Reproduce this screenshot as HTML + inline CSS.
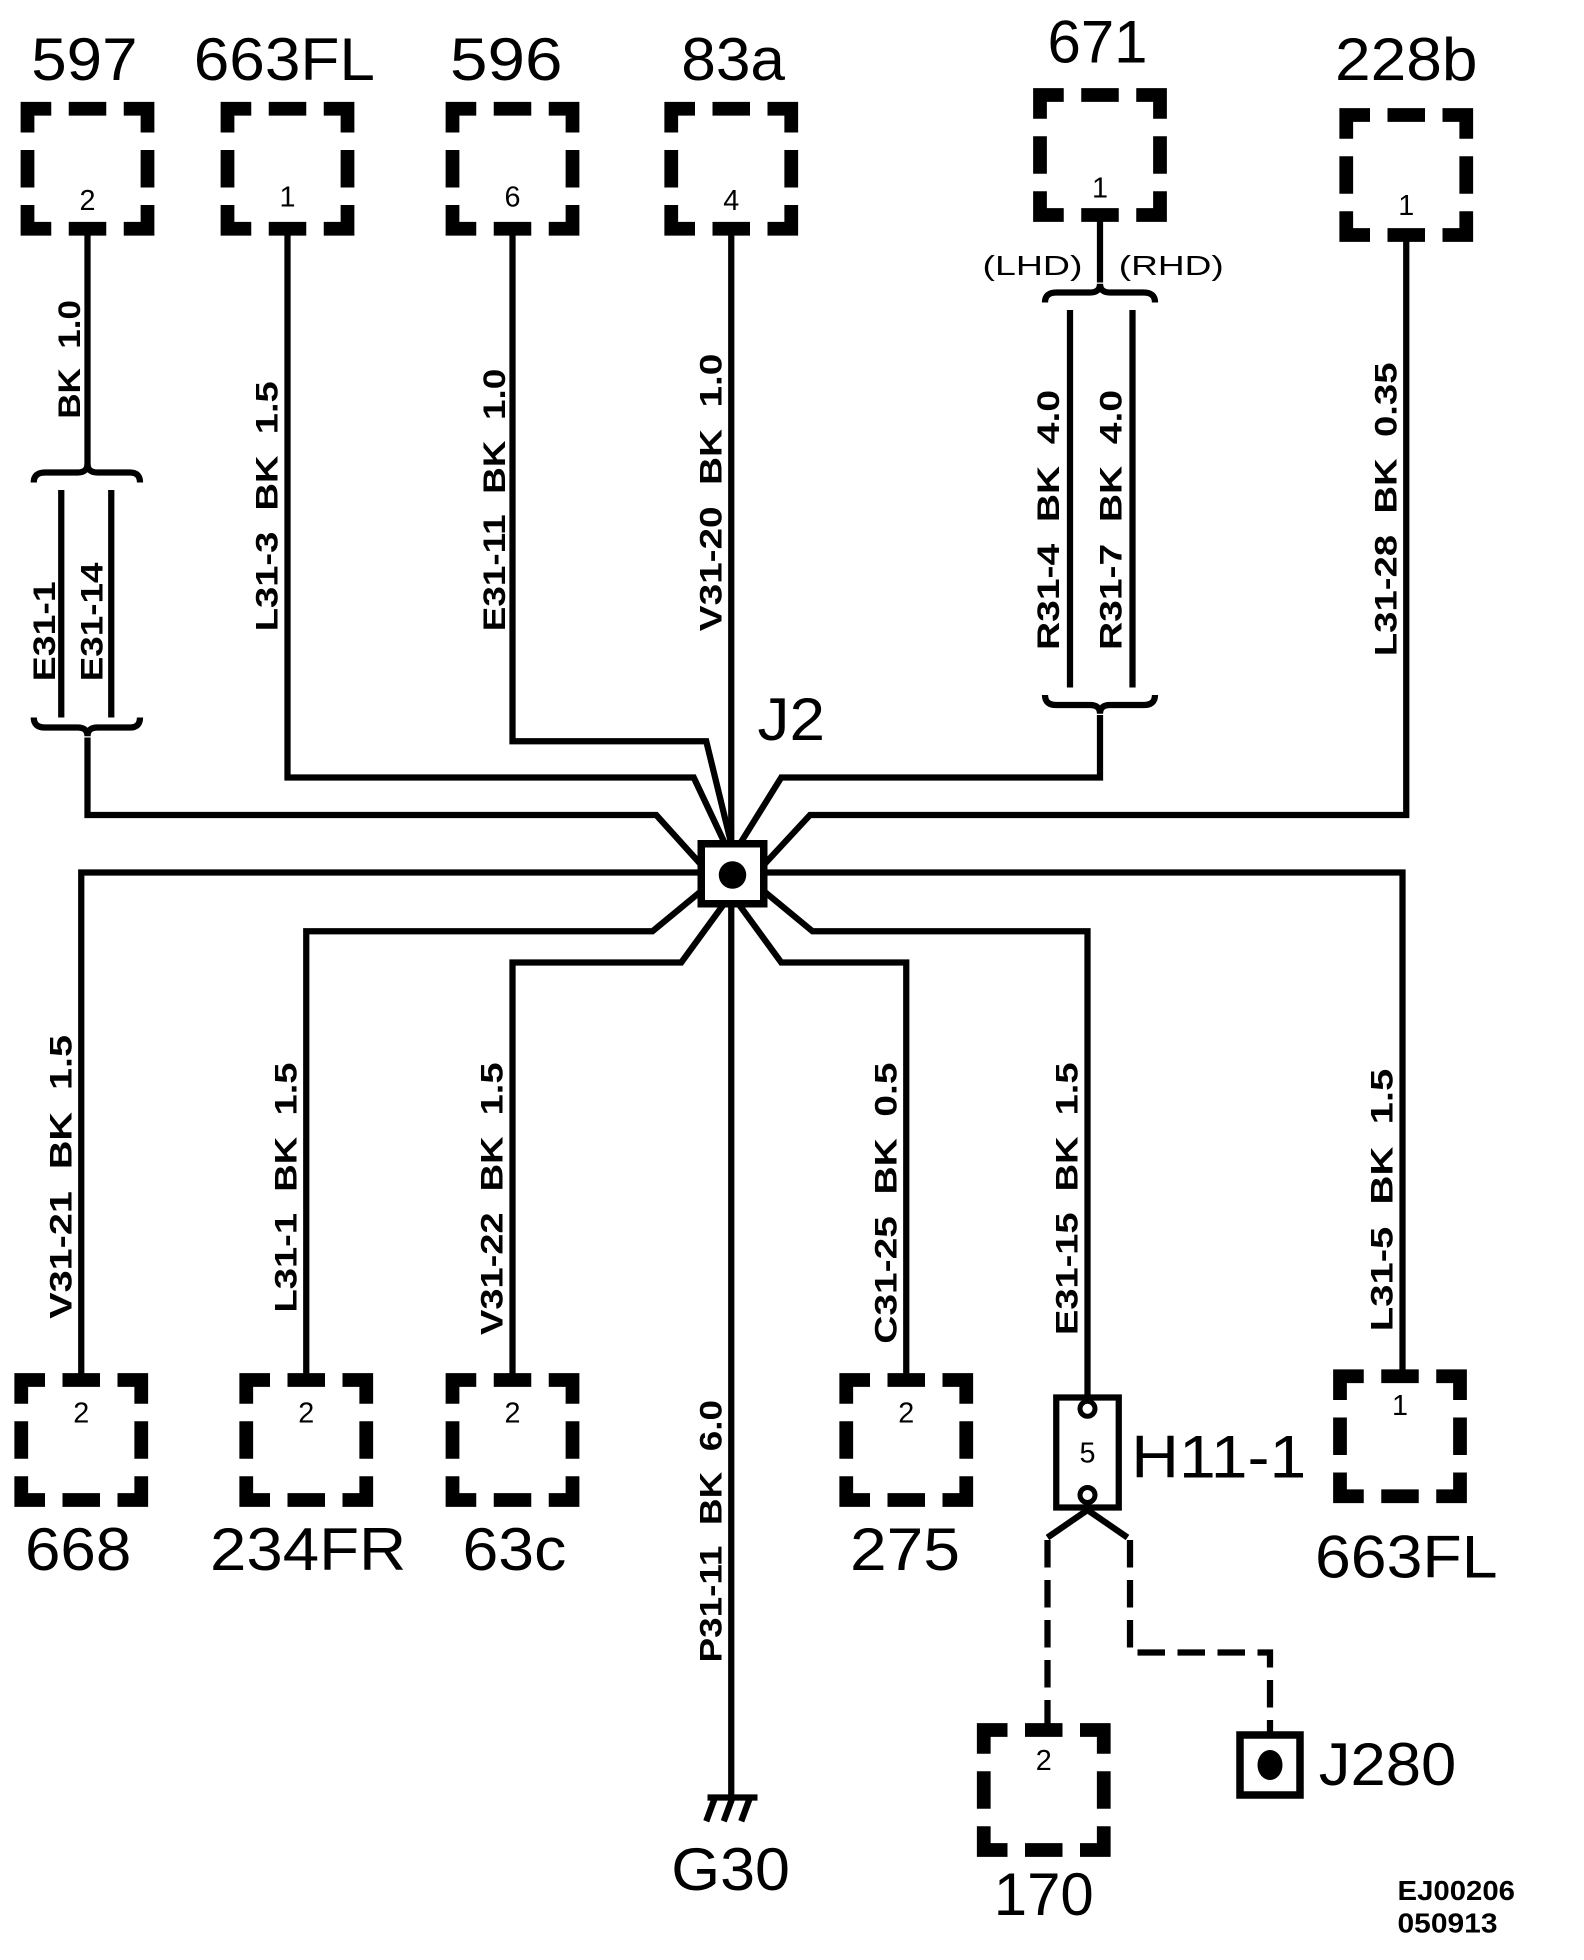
<!DOCTYPE html>
<html><head><meta charset="utf-8"><style>
html,body{margin:0;padding:0;background:#fff;}
svg{display:block;}
text{font-family:"Liberation Sans",Arial,sans-serif;fill:#000;white-space:pre;}
.big{font-size:48px;}
.w{font-size:25px;font-weight:bold;}
.p{font-size:23px;}
.s{font-size:22px;}
</style></head><body>
<svg width="1584" height="1960" viewBox="0 0 1267.2 1568" xmlns="http://www.w3.org/2000/svg">
<defs>
<rect id="bx" x="0" y="0" width="96" height="96" fill="none" stroke="#000" stroke-width="11" stroke-dasharray="38 14 30 14" stroke-dashoffset="19"/>
</defs>
<g>
<use href="#bx" x="22" y="87"/>
<use href="#bx" x="182" y="87"/>
<use href="#bx" x="362" y="87"/>
<use href="#bx" x="537" y="87"/>
<use href="#bx" x="832" y="76"/>
<use href="#bx" x="1077" y="92"/>
<use href="#bx" x="17" y="1104"/>
<use href="#bx" x="197" y="1104"/>
<use href="#bx" x="362" y="1104"/>
<use href="#bx" x="677" y="1104"/>
<use href="#bx" x="1072" y="1101"/>
<use href="#bx" x="787" y="1384"/>
</g>
<g class="big">
<text x="25" y="64" textLength="85" lengthAdjust="spacingAndGlyphs">597</text>
<text x="155" y="64" textLength="145" lengthAdjust="spacingAndGlyphs">663FL</text>
<text x="360" y="64" textLength="90" lengthAdjust="spacingAndGlyphs">596</text>
<text x="545" y="64" textLength="83" lengthAdjust="spacingAndGlyphs">83a</text>
<text x="838" y="50" textLength="80" lengthAdjust="spacingAndGlyphs">671</text>
<text x="1068" y="64" textLength="114" lengthAdjust="spacingAndGlyphs">228b</text>
<text x="20" y="1256" textLength="85" lengthAdjust="spacingAndGlyphs">668</text>
<text x="168" y="1256" textLength="157" lengthAdjust="spacingAndGlyphs">234FR</text>
<text x="370" y="1256" textLength="83" lengthAdjust="spacingAndGlyphs">63c</text>
<text x="680" y="1256" textLength="88" lengthAdjust="spacingAndGlyphs">275</text>
<text x="1052" y="1262" textLength="146" lengthAdjust="spacingAndGlyphs">663FL</text>
<text x="795" y="1532" textLength="80" lengthAdjust="spacingAndGlyphs">170</text>
<text x="537" y="1512" textLength="95" lengthAdjust="spacingAndGlyphs">G30</text>
<text x="606" y="592" textLength="54" lengthAdjust="spacingAndGlyphs">J2</text>
<text x="905" y="1182" textLength="140" lengthAdjust="spacingAndGlyphs">H11-1</text>
<text x="1055" y="1428" textLength="110" lengthAdjust="spacingAndGlyphs">J280</text>
</g>
<g class="p" text-anchor="middle">
<text x="70" y="168">2</text>
<text x="230" y="165">1</text>
<text x="410" y="165">6</text>
<text x="585" y="168">4</text>
<text x="880" y="158">1</text>
<text x="1125" y="172">1</text>
<text x="65" y="1138">2</text>
<text x="245" y="1138">2</text>
<text x="410" y="1138">2</text>
<text x="725" y="1138">2</text>
<text x="1120" y="1132">1</text>
<text x="835" y="1416">2</text>
</g>
<g fill="none" stroke="#000" stroke-width="5" stroke-linejoin="miter">
<path d="M70,183 V372"/>
<path d="M27,386 Q27,378 36,378 H62 Q70,378 70,371 Q70,378 78,378 H104 Q112,378 112,386"/>
<path d="M49,392 V574 M89,392 V574"/>
<path d="M27,574 Q27,582 36,582 H62 Q70,582 70,589 Q70,582 78,582 H104 Q112,582 112,574"/>
<path d="M70,590 V652 H525 L562,693"/>
<path d="M230,183 V622 H555 L580,675"/>
<path d="M410,183 V593 H565 L585,675"/>
<path d="M585,183 V1438"/>
<path d="M880,172 V226"/>
<path d="M836,242 Q836,234 845,234 H872 Q880,234 880,227 Q880,234 888,234 H915 Q924,234 924,242"/>
<path d="M856,248 V550 M906,248 V550"/>
<path d="M836,556 Q836,564 845,564 H872 Q880,564 880,571 Q880,564 888,564 H915 Q924,564 924,556"/>
<path d="M880,572 V622 H625 L592,675"/>
<path d="M1125,188 V652 H648 L610,693"/>
<path d="M65,1104 V698 H1122 V1101"/>
<path d="M245,1104 V745 H522 L562,712"/>
<path d="M410,1104 V770 H545 L580,722"/>
<path d="M725,1104 V770 H625 L590,722"/>
<path d="M870,1118 V745 H650 L610,712"/>
<path d="M566,1438 H606 M572,1438 L565,1457 M586,1438 L579,1457 M600,1438 L593,1457"/>
<path d="M870,1208 L838,1230 M870,1208 L902,1230"/>
</g>
<g fill="none" stroke="#000" stroke-width="5" stroke-dasharray="22 10">
<path d="M838,1232 V1382"/>
<path d="M904,1232 V1322 H1016 V1386"/>
</g>
<rect x="561" y="675" width="50" height="48" fill="#fff" stroke="#000" stroke-width="6"/>
<circle cx="586" cy="700" r="11" fill="#000"/>
<rect x="845" y="1118" width="50" height="88" fill="#fff" stroke="#000" stroke-width="5"/>
<circle cx="870" cy="1127" r="6" fill="#fff" stroke="#000" stroke-width="4"/>
<circle cx="870" cy="1196" r="6" fill="#fff" stroke="#000" stroke-width="4"/>
<text class="p" x="870" y="1170" text-anchor="middle">5</text>
<rect x="992" y="1388" width="48" height="48" fill="#fff" stroke="#000" stroke-width="6"/>
<ellipse cx="1016" cy="1412" rx="10" ry="12" fill="#000"/>
<g class="w">
<text transform="translate(64,335) rotate(-90)" textLength="95" lengthAdjust="spacingAndGlyphs">BK  1.0</text>
<text transform="translate(44,545) rotate(-90)" textLength="80" lengthAdjust="spacingAndGlyphs">E31-1</text>
<text transform="translate(82,545) rotate(-90)" textLength="95" lengthAdjust="spacingAndGlyphs">E31-14</text>
<text transform="translate(222,505) rotate(-90)" textLength="200" lengthAdjust="spacingAndGlyphs">L31-3  BK  1.5</text>
<text transform="translate(404,505) rotate(-90)" textLength="210" lengthAdjust="spacingAndGlyphs">E31-11  BK  1.0</text>
<text transform="translate(577,505) rotate(-90)" textLength="222" lengthAdjust="spacingAndGlyphs">V31-20  BK  1.0</text>
<text transform="translate(847,520) rotate(-90)" textLength="208" lengthAdjust="spacingAndGlyphs">R31-4  BK  4.0</text>
<text transform="translate(897,520) rotate(-90)" textLength="208" lengthAdjust="spacingAndGlyphs">R31-7  BK  4.0</text>
<text transform="translate(1117,525) rotate(-90)" textLength="235" lengthAdjust="spacingAndGlyphs">L31-28  BK  0.35</text>
<text transform="translate(57,1055) rotate(-90)" textLength="227" lengthAdjust="spacingAndGlyphs">V31-21  BK  1.5</text>
<text transform="translate(237,1050) rotate(-90)" textLength="200" lengthAdjust="spacingAndGlyphs">L31-1  BK  1.5</text>
<text transform="translate(402,1068) rotate(-90)" textLength="218" lengthAdjust="spacingAndGlyphs">V31-22  BK  1.5</text>
<text transform="translate(577,1330) rotate(-90)" textLength="210" lengthAdjust="spacingAndGlyphs">P31-11  BK  6.0</text>
<text transform="translate(717,1075) rotate(-90)" textLength="225" lengthAdjust="spacingAndGlyphs">C31-25  BK  0.5</text>
<text transform="translate(862,1068) rotate(-90)" textLength="218" lengthAdjust="spacingAndGlyphs">E31-15  BK  1.5</text>
<text transform="translate(1114,1065) rotate(-90)" textLength="210" lengthAdjust="spacingAndGlyphs">L31-5  BK  1.5</text>
</g>
<g class="s">
<text x="786" y="220" textLength="80" lengthAdjust="spacingAndGlyphs">(LHD)</text>
<text x="895" y="220" textLength="84" lengthAdjust="spacingAndGlyphs">(RHD)</text>
<text x="1118" y="1520" font-weight="bold" textLength="94" lengthAdjust="spacingAndGlyphs">EJ00206</text>
<text x="1118" y="1546" font-weight="bold" textLength="80" lengthAdjust="spacingAndGlyphs">050913</text>
</g>
</svg>
</body></html>
